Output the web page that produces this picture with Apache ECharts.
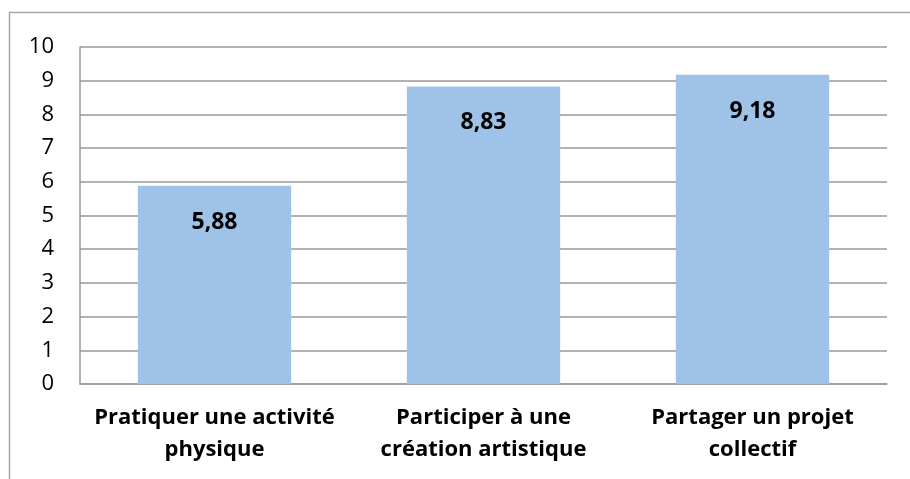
<!DOCTYPE html>
<html>
<head>
<meta charset="utf-8">
<script src="https://cdn.jsdelivr.net/npm/echarts@6/dist/echarts.min.js"></script>
<style>
  html, body { margin: 0; padding: 0; background: #fff; }
  #chart { width: 910px; height: 479px; }
</style>
</head>
<body>
<div id="chart"></div>
<script>
  const categories = [
    'Pratiquer une activité\nphysique',
    'Participer à une\ncréation artistique',
    'Partager un projet\ncollectif'
  ]
  const values = [5.88, 8.83, 9.18]
  const yTicks = [0, 1, 2, 3, 4, 5, 6, 7, 8, 9, 10]

  const chart = echarts.init(document.getElementById('chart'))

  chart.setOption({
    animation: false,
    textStyle: { fontFamily: '"Open Sans", sans-serif' },
    graphic: [{
      type: 'rect',
      shape: { x: 9.5, y: 12.5, width: 920, height: 500 },
      style: { fill: 'none', stroke: '#a6a6a6', lineWidth: 1.5 },
      silent: true
    }],
    grid: { left: 80, right: 23, top: 47, bottom: 95 },
    xAxis: {
      type: 'category',
      data: categories,
      axisLine: { lineStyle: { color: '#999', width: 1.5 } },
      axisTick: { show: false },
      axisLabel: {
        color: '#000',
        fontSize: 22,
        fontWeight: 'bold',
        lineHeight: 32,
        margin: 18,
        interval: 0
      }
    },
    yAxis: {
      type: 'value',
      min: yTicks[0],
      max: yTicks[yTicks.length - 1],
      interval: 1,
      axisLine: { show: true, lineStyle: { color: '#999', width: 1.5 } },
      axisTick: { show: false },
      splitLine: { lineStyle: { color: '#999', width: 1.5 } },
      axisLabel: { color: '#000', fontSize: 22, margin: 26, padding: [6, 0, 0, 0] }
    },
    series: [{
      type: 'bar',
      data: values,
      barWidth: '57%',
      itemStyle: { color: '#9fc3e8' },
      label: {
        show: true,
        position: 'insideTop',
        distance: 25,
        color: '#000',
        fontSize: 23,
        fontWeight: 'bold',
        formatter: p => p.value.toFixed(2).replace('.', ',')
      }
    }]
  })
</script>
</body>
</html>
